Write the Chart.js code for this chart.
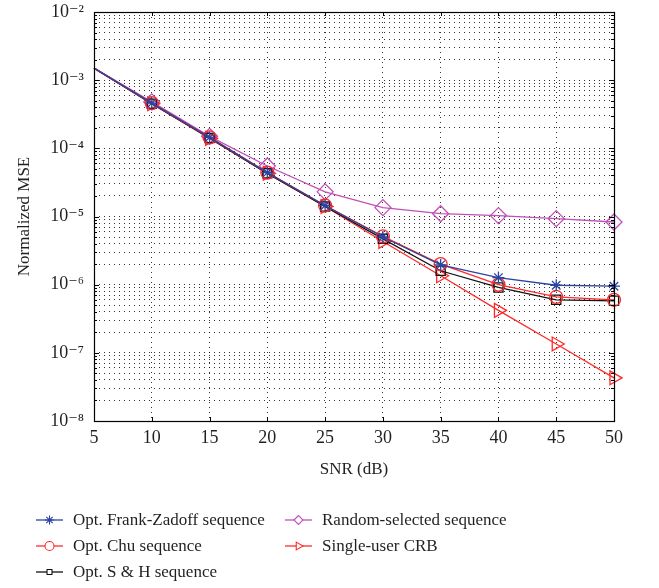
<!DOCTYPE html>
<html><head><meta charset="utf-8">
<script src="https://cdn.jsdelivr.net/npm/chart.js@4/dist/chart.umd.min.js"></script>
<style>html,body{margin:0;padding:0;background:#fff}#wrap{width:659px;height:588px;position:relative}</style>
</head><body><div id="wrap"><canvas id="c" width="659" height="588"></canvas></div>
<script>
// ---- data ----
const snr = [5, 10, 15, 20, 25, 30, 35, 40, 45, 50];
const frankZadoff = [1.5e-3, 4.6e-4, 1.45e-4, 4.4e-5, 1.45e-5, 5.0e-6, 1.95e-6, 1.27e-6, 9.8e-7, 9.5e-7];
const chu = [1.5e-3, 4.6e-4, 1.45e-4, 4.4e-5, 1.45e-5, 5.1e-6, 2.0e-6, 1.0e-6, 6.6e-7, 6.0e-7];
const shSeq = [1.5e-3, 4.5e-4, 1.42e-4, 4.3e-5, 1.4e-5, 4.7e-6, 1.6e-6, 9.1e-7, 6.0e-7, 5.8e-7];
const randomSel = [1.5e-3, 4.8e-4, 1.5e-4, 5.5e-5, 2.3e-5, 1.35e-5, 1.1e-5, 1.03e-5, 9.3e-6, 8.3e-6];
const crb = [1.5e-3, 4.5e-4, 1.4e-4, 4.3e-5, 1.4e-5, 4.3e-6, 1.35e-6, 4.2e-7, 1.35e-7, 4.3e-8];
const seriesNames = ['Opt. Frank-Zadoff sequence', 'Opt. Chu sequence', 'Opt. S & H sequence', 'Random-selected sequence', 'Single-user CRB'];
const xTickValues = [5, 10, 15, 20, 25, 30, 35, 40, 45, 50];
const yDecades = [-8, -7, -6, -5, -4, -3, -2];
const xTitle = 'SNR (dB)';
const yTitle = 'Normalized MSE';

const FONT = '"Liberation Serif", "DejaVu Serif", serif';
const supMap = {'-': '\u207B', '0': '\u2070', '1': '\u00B9', '2': '\u00B2', '3': '\u00B3', '4': '\u2074', '5': '\u2075', '6': '\u2076', '7': '\u2077', '8': '\u2078', '9': '\u2079'};
const sup = s => String(s).split('').map(c => supMap[c] || c).join('');

const pts = arr => snr.map((x, i) => ({x: x, y: arr[i]}));
const radii = r => snr.map((x, i) => i === 0 ? 0 : r);

const styles = [
  {color: '#2a44a0', style: 'star', r: 6, rot: 0},
  {color: '#ff2a2a', style: 'circle', r: 6.5, rot: 0},
  {color: '#111111', style: 'rect', r: 6.5, rot: 0},
  {color: '#c050b8', style: 'rectRot', r: 8, rot: 0},
  {color: '#ff2a2a', style: 'triangle', r: 8, rot: 90}
];
const seriesData = [frankZadoff, chu, shSeq, randomSel, crb];

const datasets = seriesData.map((arr, i) => ({
  label: seriesNames[i],
  data: pts(arr),
  borderColor: styles[i].color,
  backgroundColor: 'rgba(0,0,0,0)',
  borderWidth: 1.3,
  pointStyle: styles[i].style,
  pointRadius: radii(styles[i].r),
  pointRotation: styles[i].rot,
  pointBorderColor: styles[i].color,
  pointBackgroundColor: 'rgba(0,0,0,0)',
  pointBorderWidth: 1.3,
  pointHoverRadius: radii(styles[i].r),
  tension: 0,
  clip: false
}));

const frameAndLegend = {
  id: 'frameAndLegend',
  afterDraw(chart) {
    const ctx = chart.ctx;
    const a = chart.chartArea;
    const xs = chart.scales.x, ys = chart.scales.y;
    ctx.save();
    ctx.strokeStyle = '#000';
    ctx.lineWidth = 1;
    ctx.setLineDash([]);
    ctx.beginPath();
    // inner tick marks
    xs.ticks.forEach(t => {
      const px = Math.round(xs.getPixelForValue(t.value)) + 0.5;
      ctx.moveTo(px, a.bottom); ctx.lineTo(px, a.bottom - 4);
      ctx.moveTo(px, a.top); ctx.lineTo(px, a.top + 4);
    });
    ys.ticks.forEach(t => {
      const py = Math.round(ys.getPixelForValue(t.value)) + 0.5;
      const major = Math.abs(Math.log10(t.value) - Math.round(Math.log10(t.value))) < 1e-9;
      const L = major ? 5 : 3;
      ctx.moveTo(a.left, py); ctx.lineTo(a.left + L, py);
      ctx.moveTo(a.right, py); ctx.lineTo(a.right - L, py);
    });
    ctx.stroke();
    ctx.lineWidth = 1.2;
    ctx.strokeRect(Math.round(a.left) + 0.5, Math.round(a.top) + 0.5, Math.round(a.right - a.left), Math.round(a.bottom - a.top));
    // legend
    const order = [[0, 36, 520], [1, 36, 546], [2, 36, 572], [3, 285, 520], [4, 285, 546]];
    ctx.font = '17px ' + FONT;
    ctx.textBaseline = 'middle';
    ctx.textAlign = 'left';
    order.forEach(([i, x0, y]) => {
      const ds = chart.data.datasets[i];
      ctx.strokeStyle = ds.borderColor;
      ctx.lineWidth = 1.3;
      ctx.beginPath();
      ctx.moveTo(x0, y); ctx.lineTo(x0 + 27, y);
      ctx.stroke();
      ctx.fillStyle = '#ffffff';
      ctx.lineWidth = 1.1;
      Chart.helpers.drawPoint(ctx, {
        pointStyle: ds.pointStyle,
        rotation: ds.pointRotation,
        radius: ds.pointStyle === 'rect' ? 3.5 : 4.5,
        borderWidth: 1.1
      }, x0 + 13.5, y);
      ctx.fillStyle = '#231f20';
      ctx.fillText(ds.label, x0 + 37, y + 1);
    });
    ctx.restore();
  }
};

new Chart(document.getElementById('c'), {
  type: 'line',
  data: {datasets: datasets},
  options: {
    responsive: false,
    devicePixelRatio: 1,
    animation: false,
    events: [],
    layout: {padding: {left: 0, right: 45, top: 12, bottom: 104}},
    plugins: {legend: {display: false}, tooltip: {enabled: false}},
    scales: {
      x: {
        type: 'linear',
        min: 5, max: 50,
        afterBuildTicks: s => { s.ticks = xTickValues.map(v => ({value: v})); },
        afterFit: s => { s.height = 63; },
        ticks: {color: '#231f20', font: {family: FONT, size: 18}, padding: 6, maxRotation: 0, callback: v => String(v)},
        grid: {drawTicks: false, color: 'rgba(0,0,0,0.8)', lineWidth: 1, borderDash: [1, 4]},
        border: {display: false, dash: [1, 4]},
        title: {display: true, text: xTitle, color: '#231f20', font: {family: FONT, size: 17}, padding: {top: 4, bottom: 4}}
      },
      y: {
        type: 'logarithmic',
        min: 1e-8, max: 1e-2,
        afterBuildTicks: s => {
          const t = [];
          yDecades.forEach(e => {
            for (let k = 1; k <= 9; k++) {
              if (e === -2 && k > 1) break;
              t.push({value: k * Math.pow(10, e)});
            }
          });
          s.ticks = t;
        },
        afterFit: s => { s.width = 94; s.paddingTop = 0; s.paddingBottom = 0; },
        ticks: {
          color: '#231f20', font: {family: FONT, size: 18}, padding: 10, autoSkip: false,
          callback: function (v) {
            const e = Math.log10(v);
            return Math.abs(e - Math.round(e)) < 1e-9 ? '10' + sup(Math.round(e)) : '';
          }
        },
        grid: {drawTicks: false, color: 'rgba(0,0,0,0.8)', lineWidth: 1, borderDash: [1, 4]},
        border: {display: false, dash: [1, 4]},
        title: {display: true, text: yTitle, color: '#231f20', font: {family: FONT, size: 17}, padding: {top: 14, bottom: 4}}
      }
    }
  },
  plugins: [frameAndLegend]
});
</script></body></html>
